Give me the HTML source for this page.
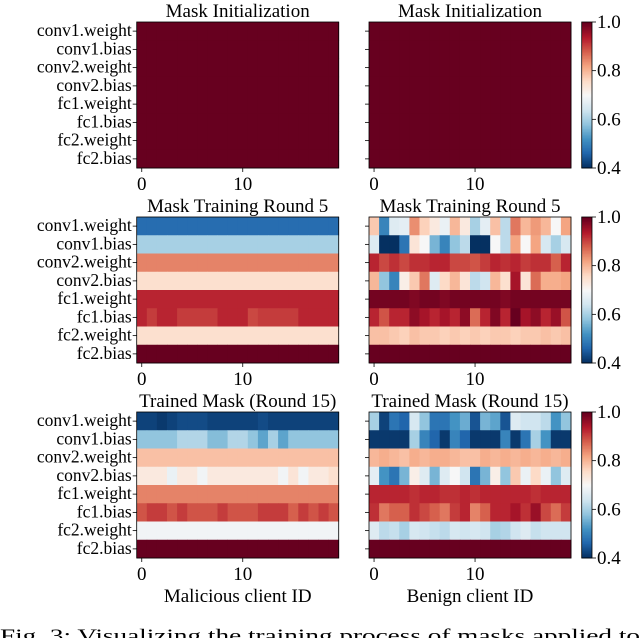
<!DOCTYPE html>
<html><head><meta charset="utf-8"><style>
body{margin:0;background:#fff;}
svg{display:block;}
svg text{font-family:"Liberation Serif","Times New Roman",Times,serif;}
</style></head><body>
<svg id="fig" width="640" height="638" font-family="Liberation Serif, serif"></svg>
<script>
const layers=["conv1.weight","conv1.bias","conv2.weight","conv2.bias","fc1.weight","fc1.bias","fc2.weight","fc2.bias"];
const clientIds=Array.from({length:20},(_,i)=>i);
const xTicks=[0,10];
const cbTicks=[0.4,0.6,0.8,1.0];
const titles=["Mask Initialization","Mask Initialization","Mask Training Round 5","Mask Training Round 5","Trained Mask (Round 15)","Trained Mask (Round 15)"];
const c1=v=>Array(20).fill(v);
const initMal=[c1(1),c1(1),c1(1),c1(1),c1(1),c1(1),c1(1),c1(1)];
const initBen=[c1(1),c1(1),c1(1),c1(1),c1(1),c1(1),c1(1),c1(1)];
const r5Mal=[c1(0.47),c1(0.6),c1(0.85),c1(0.75),c1(0.93),
[0.93,0.91,0.93,0.93,0.91,0.91,0.91,0.91,0.93,0.93,0.93,0.90,0.91,0.91,0.91,0.91,0.93,0.93,0.93,0.93],
c1(0.75),c1(1)];
const r5Ben=[
[0.78,0.5,0.66,0.67,0.84,0.77,0.73,0.68,0.8,0.73,0.6,0.67,0.79,0.62,0.86,0.8,0.83,0.8,0.7,0.82],
[0.66,0.4,0.4,0.48,0.74,0.7,0.56,0.5,0.58,0.62,0.4,0.4,0.7,0.62,0.82,0.7,0.82,0.65,0.6,0.65],
[0.93,0.9,0.92,0.9,0.92,0.92,0.93,0.93,0.9,0.9,0.89,0.91,0.93,0.92,0.93,0.91,0.92,0.92,0.88,0.93],
[0.8,0.58,0.5,0.72,0.78,0.86,0.66,0.76,0.8,0.74,0.62,0.64,0.8,0.75,0.95,0.74,0.87,0.81,0.81,0.82],
[0.99,0.99,0.99,0.99,0.98,0.99,0.99,0.98,0.99,0.99,0.99,0.99,0.99,0.98,0.99,0.99,0.99,0.99,0.99,0.99],
[0.93,0.89,0.93,0.93,0.97,0.95,0.93,0.95,0.93,0.97,0.87,0.93,0.98,0.93,1.0,0.95,0.97,0.93,0.96,0.89],
[0.79,0.79,0.78,0.77,0.79,0.78,0.78,0.77,0.78,0.77,0.78,0.77,0.78,0.78,0.77,0.78,0.78,0.79,0.78,0.79],
c1(1)];
const r15Mal=[
[0.42,0.42,0.41,0.42,0.43,0.43,0.43,0.42,0.42,0.42,0.42,0.42,0.43,0.42,0.42,0.42,0.42,0.42,0.42,0.42],
[0.58,0.58,0.58,0.58,0.61,0.61,0.61,0.57,0.57,0.61,0.61,0.58,0.54,0.6,0.54,0.58,0.58,0.58,0.58,0.58],
c1(0.79),
[0.73,0.73,0.73,0.68,0.73,0.73,0.69,0.73,0.73,0.73,0.73,0.73,0.73,0.73,0.69,0.74,0.69,0.73,0.73,0.75],
c1(0.85),
[0.89,0.91,0.91,0.89,0.91,0.89,0.89,0.89,0.91,0.89,0.89,0.89,0.91,0.91,0.91,0.88,0.91,0.89,0.91,0.89],
c1(0.69),c1(1)];
const r15Ben=[
[0.6,0.42,0.48,0.46,0.65,0.58,0.48,0.48,0.52,0.55,0.44,0.56,0.54,0.44,0.66,0.64,0.64,0.62,0.52,0.58],
[0.41,0.41,0.41,0.41,0.6,0.5,0.46,0.41,0.5,0.46,0.41,0.41,0.41,0.5,0.41,0.48,0.6,0.52,0.41,0.41],
[0.8,0.81,0.8,0.79,0.81,0.8,0.81,0.81,0.8,0.79,0.79,0.81,0.8,0.81,0.8,0.81,0.8,0.81,0.8,0.81],
[0.67,0.52,0.48,0.56,0.72,0.66,0.56,0.66,0.7,0.64,0.48,0.56,0.72,0.58,0.78,0.68,0.76,0.68,0.58,0.66],
[0.93,0.93,0.93,0.93,0.92,0.93,0.93,0.92,0.92,0.93,0.92,0.93,0.93,0.93,0.93,0.93,0.92,0.93,0.93,0.93],
[0.92,0.86,0.88,0.88,0.92,0.9,0.88,0.86,0.91,0.93,0.85,0.88,0.93,0.93,0.95,0.92,0.96,0.9,0.87,0.91],
[0.66,0.62,0.63,0.6,0.65,0.64,0.63,0.62,0.65,0.64,0.65,0.64,0.6,0.61,0.64,0.66,0.63,0.64,0.64,0.64],
c1(1)];
const panelData=[initMal,initBen,r5Mal,r5Ben,r15Mal,r15Ben];

const NS="http://www.w3.org/2000/svg";
const svg=document.getElementById('fig');
const FF='"Liberation Serif", "Times New Roman", serif';
const stops=["#053061","#2166ac","#4393c3","#92c5de","#d1e5f0","#f7f7f7","#fddbc7","#f4a582","#d6604d","#b2182b","#67001f"].map(h=>[1,3,5].map(i=>parseInt(h.substr(i,2),16)));
function cmap(v){let t=(v-0.4)/0.6;t=Math.max(0,Math.min(1,t))*10;const i=Math.min(9,Math.floor(t)),f=t-i;const a=stops[i],b=stops[i+1];return `rgb(${a.map((x,k)=>Math.round(x+(b[k]-x)*f)).join(',')})`;}
function el(tag,attrs,parent){const e=document.createElementNS(NS,tag);for(const k in attrs)e.setAttribute(k,attrs[k]);if(tag==='text')e.style.fontFamily=FF;(parent||svg).appendChild(e);return e;}
const colX=[136.7,369], W=202, tops=[22,217,412], H=146;
panelData.forEach((data,p)=>{
  const col=p%2,row=Math.floor(p/2),x0=colX[col],y0=tops[row];
  const g=el('g',{});
  
  
  const cw=W/clientIds.length,ch=H/layers.length;
  const xs=i=>x0+i*cw, ys=j=>y0+j*ch;
  data.forEach((rowv,j)=>rowv.forEach((v,i)=>{
    const r=el('rect',{x:xs(i),y:ys(j),width:cw+0.4,height:ch+0.4,fill:cmap(v)},g);
    
    
  }));
  el('rect',{x:x0,y:y0,width:W,height:H,fill:'none',stroke:'#000','stroke-width':0.8},g);
  const t=el('text',{x:x0+W/2,y:y0-5,'text-anchor':'middle','font-size':19},g);t.textContent=titles[p];
  
  xTicks.forEach(v=>{const cx=xs(v)+cw/2;el('line',{x1:cx,x2:cx,y1:y0+H,y2:y0+H+4,stroke:'#000','stroke-width':0.8},g);
    const tt=el('text',{x:cx,y:y0+H+22,'text-anchor':'middle','font-size':19},g);tt.textContent=v;
    });
  layers.forEach((l,j)=>{const cy=ys(j)+ch/2;el('line',{x1:x0-4,x2:x0,y1:cy,y2:cy,stroke:'#000','stroke-width':0.8},g);
    if(col===0){const tt=el('text',{x:x0-5,y:cy+5,'text-anchor':'end','font-size':17.5},g);tt.textContent=l;
    }});
  if(col===1){
    const cb=el('g',{},g);
    for(let k=0;k<100;k++){const v=0.4+0.6*(k/99);el('rect',{x:581.7,y:y0+H-(k+1)*H/100,width:10.3,height:H/100+0.5,fill:cmap(v)},cb);}
    el('rect',{x:581.7,y:y0,width:10.3,height:H,fill:'none',stroke:'#000','stroke-width':0.8},cb);
    cbTicks.forEach(v=>{const cy=y0+H-(v-0.4)/0.6*H;el('line',{x1:592,x2:596,y1:cy,y2:cy,stroke:'#000','stroke-width':0.8},cb);
      const tt=el('text',{x:597,y:cy+6,'font-size':19},cb);tt.textContent=v.toFixed(1);
      });
  }
});
const xl1=el('text',{x:237.7,y:602,'text-anchor':'middle','font-size':19});xl1.textContent="Malicious client ID";

const xl2=el('text',{x:470,y:602,'text-anchor':'middle','font-size':19});xl2.textContent="Benign client ID";

const cap=el('text',{x:0,y:642,'font-size':19,textLength:640,lengthAdjust:'spacingAndGlyphs'});cap.textContent="Fig. 3: Visualizing the training process of masks applied to";

</script>
</body></html>
